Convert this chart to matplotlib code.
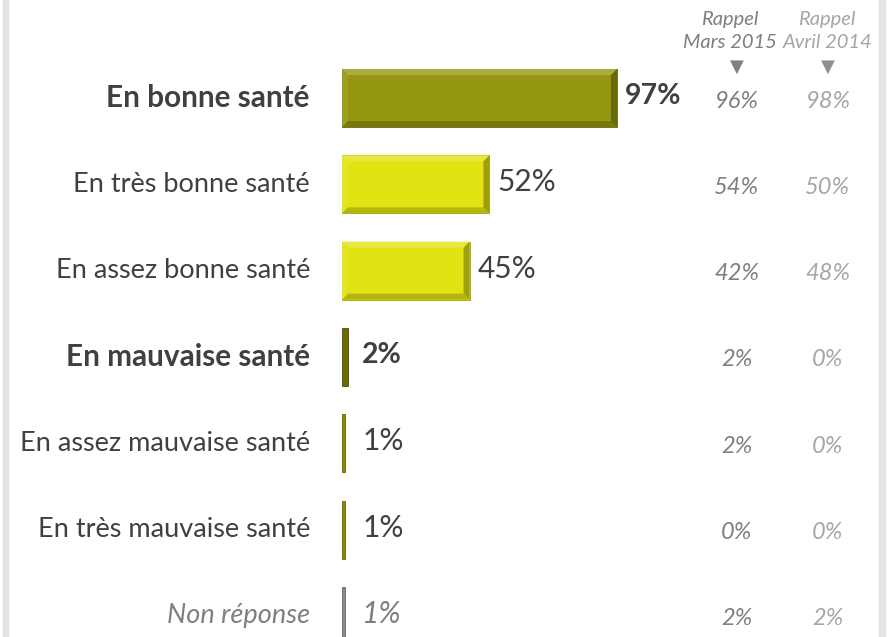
import matplotlib
matplotlib.use("Agg")
import matplotlib.pyplot as plt
from matplotlib.patches import Polygon, Rectangle
import matplotlib.colors as mcolors
import numpy as np

categories = ["En bonne santé", "En très bonne santé", "En assez bonne santé",
              "En mauvaise santé", "En assez mauvaise santé", "En très mauvaise santé",
              "Non réponse"]
values = [97, 52, 45, 2, 1, 1, 1]
mars_2015 = ["96%", "54%", "42%", "2%", "2%", "0%", "2%"]
avril_2014 = ["98%", "50%", "48%", "0%", "0%", "0%", "2%"]
header_mars = "Rappel\nMars 2015"
header_avril = "Rappel\nAvril 2014"

bar_colors = ["#959710", "#e1e312", "#e1e312", "#6b6b04", "#8c8c00", "#8c8c00", "#8a8a8a"]
bold = [True, False, False, True, False, False, False]
italic = [False, False, False, False, False, False, True]

plt.rcParams['font.family'] = ['Lato', 'DejaVu Sans']

W, H = 889, 637
fig = plt.figure(figsize=(W / 100, H / 100), dpi=100)
fig.patch.set_facecolor("white")

x0px = 342
scale = 2.835
ax = fig.add_axes([x0px / W, 0, 1 - x0px / W, 1])
ax.set_xlim(0, (W - x0px) / scale)
row0, spacing = 98, 86.33
ax.set_ylim((H - row0) / spacing, -row0 / spacing)
ax.axis("off")

px = 1 / scale
py = 1 / spacing
bh = 58 * py

def shade(c, f):
    r, g, b = mcolors.to_rgb(c)
    if f > 0:
        return (r + (1 - r) * f, g + (1 - g) * f, b + (1 - b) * f)
    return (r * (1 + f), g * (1 + f), b * (1 + f))

for i, (v, c) in enumerate(zip(values, bar_colors)):
    ax.barh(i, v, height=bh, color=c, edgecolor=shade(c, -0.3), linewidth=0.6, zorder=2)
    bx = 6 * px
    by = 6 * py
    if v > 3 * bx:
        t, b = i - bh / 2, i + bh / 2
        ax.add_patch(Polygon([(0, t), (v, t), (v - bx, t + by), (bx, t + by)],
                             closed=True, color=shade(c, 0.2), lw=0, zorder=3))
        ax.add_patch(Polygon([(0, t), (bx, t + by), (bx, b - by), (0, b)],
                             closed=True, color=shade(c, 0.08), lw=0, zorder=3))
        ax.add_patch(Polygon([(0, b), (bx, b - by), (v - bx, b - by), (v, b)],
                             closed=True, color=shade(c, -0.2), lw=0, zorder=3))
        ax.add_patch(Polygon([(v, t), (v, b), (v - bx, b - by), (v - bx, t + by)],
                             closed=True, color=shade(c, -0.3), lw=0, zorder=3))

    ccol = "#7f7f7f" if italic[i] else "#404040"
    ax.text(-32 * px, i, categories[i], ha="right", va="center",
            fontsize=21.4 if bold[i] else 19.5,
            fontweight="bold" if bold[i] else "normal",
            fontstyle="italic" if italic[i] else "normal", color=ccol, clip_on=False)
    vx = max(v, 4.3) + 8 * px
    ax.text(vx, i - 2 * py, f"{v}%", ha="left", va="center",
            fontsize=20.5 if bold[i] else 21.5,
            fontweight="bold" if bold[i] else "normal",
            fontstyle="italic" if italic[i] else "normal", color=ccol)

    ax.text((737 - x0px) * px, i + 3 * py, mars_2015[i], ha="center", va="center",
            fontsize=17, fontstyle="italic", color="#7f7f7f")
    ax.text((828 - x0px) * px, i + 3 * py, avril_2014[i], ha="center", va="center",
            fontsize=17, fontstyle="italic", color="#a6a6a6")

yh = -row0 / spacing
ax.text((730 - x0px) * px, yh + 31 * py, header_mars, ha="center", va="center",
        fontsize=14.5, fontstyle="italic", color="#7f7f7f", linespacing=1.4)
ax.text((827 - x0px) * px, yh + 31 * py, header_avril, ha="center", va="center",
        fontsize=14.5, fontstyle="italic", color="#a6a6a6", linespacing=1.4)
ax.text((737 - x0px) * px, yh + 67 * py, "▼", ha="center", va="center",
        fontsize=13, color="#808080", family="DejaVu Sans")
ax.text((828 - x0px) * px, yh + 67 * py, "▼", ha="center", va="center",
        fontsize=13, color="#8c9090", family="DejaVu Sans")

fig.patches.append(Rectangle((3 / W, 0), 5 / W, 1, transform=fig.transFigure,
                             color="#e3e3e3", zorder=0))
fig.patches.append(Rectangle((879 / W, 0), 6 / W, 1, transform=fig.transFigure,
                             color="#e3e3e3", zorder=0))

fig.savefig("out.png", dpi=100, facecolor="white")
